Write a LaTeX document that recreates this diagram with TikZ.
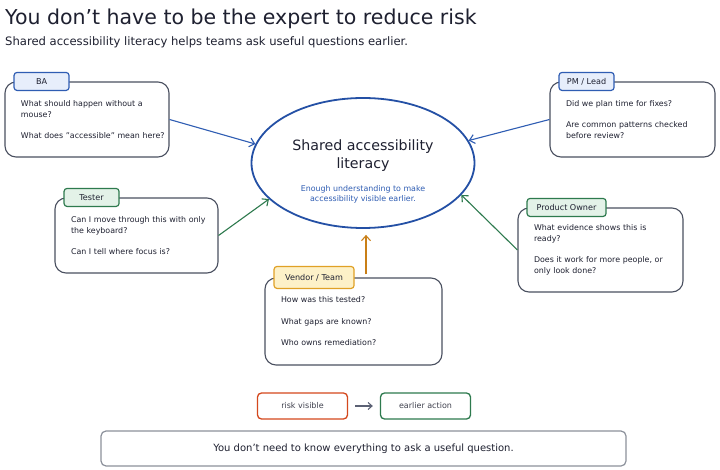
\documentclass[tikz,border=0pt]{standalone}
\usepackage{fontspec}
\setmainfont{DejaVu Sans}
\usetikzlibrary{arrows.meta,positioning,shapes.geometric}

\definecolor{inkdark}{HTML}{1E2030}
\definecolor{boxline}{HTML}{4A5060}
\definecolor{roleblue}{HTML}{2F5DB3}
\definecolor{tagblue}{HTML}{E7EEFB}
\definecolor{rolegreen}{HTML}{2E7A4E}
\definecolor{taggreen}{HTML}{E3F2E8}
\definecolor{roleorange}{HTML}{E0A126}
\definecolor{tagorange}{HTML}{FDF1C8}
\definecolor{arroworange}{HTML}{C97F17}
\definecolor{hubblue}{HTML}{2450A5}
\definecolor{riskred}{HTML}{D4481D}
\definecolor{footline}{HTML}{8C919B}
\definecolor{legendgray}{HTML}{5B6174}

\newcommand{\headfont}{\fontsize{20.5}{24}\selectfont}
\newcommand{\subfont}{\fontsize{11.6}{14}\selectfont}
\newcommand{\asktext}{\fontsize{7.9}{11}\selectfont}
\newcommand{\tagtext}{\fontsize{8.1}{10}\selectfont}

\tikzset{
  headline/.style={inner sep=0pt, text=inkdark, font=\headfont},
  subline/.style={inner sep=0pt, text=inkdark, font=\subfont},
  hub/.style={
    ellipse,
    draw=hubblue,
    line width=1.8pt,
    fill=white,
    inner sep=0pt,
    minimum width=223pt,
    minimum height=130pt
  },
  hubtitle/.style={
    inner sep=0pt,
    align=center,
    text=inkdark,
    font=\fontsize{14.2}{18}\selectfont
  },
  hubnote/.style={
    inner sep=0pt,
    align=center,
    text=roleblue,
    font=\fontsize{7.9}{10}\selectfont
  },
  askbox/.style={
    rectangle,
    rounded corners=11pt,
    draw=boxline,
    line width=1.1pt,
    fill=white,
    align=left,
    inner xsep=0pt,
    inner ysep=0pt,
    text=inkdark,
    font=\asktext,
    execute at begin node={\parindent=0pt\leftskip=16pt}
  },
  roletag/.style={
    rectangle,
    rounded corners=3pt,
    line width=1.2pt,
    minimum width=55pt,
    minimum height=18pt,
    inner xsep=4pt,
    inner ysep=2pt,
    text=inkdark,
    font=\tagtext
  },
  bluetag/.style={roletag, draw=roleblue, fill=tagblue},
  greentag/.style={roletag, draw=rolegreen, fill=taggreen},
  orangetag/.style={roletag, draw=roleorange, fill=tagorange},
  askarrow/.style={
    -{Straight Barb[length=5pt,width=9pt]},
    line width=1.1pt
  },
  bluearrow/.style={askarrow, draw=roleblue},
  greenarrow/.style={askarrow, draw=rolegreen},
  orangearrow/.style={askarrow, draw=arroworange},
  legendbox/.style={
    rectangle,
    rounded corners=4pt,
    line width=1.3pt,
    minimum width=90pt,
    minimum height=26pt,
    text=inkdark!85,
    font=\fontsize{8}{10}\selectfont
  },
  footbox/.style={
    rectangle,
    rounded corners=5pt,
    draw=footline,
    line width=1.2pt,
    minimum width=525pt,
    minimum height=35pt,
    text=inkdark,
    font=\fontsize{10}{12}\selectfont
  }
}

\begin{document}
\begin{tikzpicture}[x=1pt,y=-1pt]
  \path[use as bounding box, fill=white] (0,0) rectangle (720,470);

  \node[headline, anchor=base west] (title) at (5,25) {You don’t have to be the expert to reduce risk};
  \node[subline, anchor=base west] (subtitle) at (5,46) {Shared accessibility literacy helps teams ask useful questions earlier.};

  % centre
  \node[hub] (lit) at (363,163) {};
  \node[hubtitle] (littitle) at (363,155.5) {Shared accessibility\\literacy};
  \node[hubnote, below=14pt of littitle] (litnote) {Enough understanding to make\\accessibility visible earlier.};

  % roles
  \node[askbox, text width=164pt, minimum height=75pt] (ba) at (87,119.5)
    {What should happen without a\\mouse?\\[10pt]What does "accessible" mean here?};
  \node[bluetag, anchor=west] (batag) at ([xshift=9pt]ba.north west) {BA};

  \node[askbox, text width=163pt, minimum height=75pt] (tester) at (136.5,235.5)
    {Can I move through this with only\\the keyboard?\\[10pt]Can I tell where focus is?};
  \node[greentag, anchor=west] (testertag) at ([xshift=9pt]tester.north west) {Tester};

  \node[askbox, text width=165pt, minimum height=75pt] (pm) at (632.5,119.5)
    {Did we plan time for fixes?\\[10pt]Are common patterns checked\\before review?};
  \node[bluetag, anchor=west] (pmtag) at ([xshift=9pt]pm.north west) {PM / Lead};

  \node[askbox, text width=165pt, minimum height=84pt] (po) at (600.5,250)
    {What evidence shows this is\\ready?\\[10pt]Does it work for more people, or\\only look done?};
  \node[greentag, anchor=west, minimum width=79pt] (potag) at ([xshift=9pt]po.north west) {Product Owner};

  \node[askbox, text width=177pt, minimum height=87pt] (vendor) at (353.5,321.5)
    {How was this tested?\\[10.5pt]What gaps are known?\\[10.5pt]Who owns remediation?};
  \node[orangetag, anchor=west, minimum width=80pt, minimum height=22pt] (vendortag) at ([xshift=9pt]vendor.north west) {Vendor / Team};

  \draw[bluearrow] (ba.east) -- (lit.170);
  \draw[greenarrow] (tester.east) -- (lit.201);
  \draw[bluearrow] (pm.west) -- (lit.12);
  \draw[greenarrow] (po.west) -- (lit.342);
  \draw[orangearrow, shorten <=3pt, shorten >=6pt] ([xshift=12.5pt]vendor.north) -- ([xshift=12.5pt]vendor.north |- lit.south);

  % legend
  \node[legendbox, draw=riskred] (risk) at (302.5,406) {risk visible};
  \node[legendbox, draw=rolegreen] (action) at (425.5,406) {earlier action};
  \draw[-{Straight Barb[length=4pt,width=7pt]}, line width=1.1pt, draw=legendgray, shorten <=7pt, shorten >=7pt] (risk) -- (action);

  \node[footbox] (footer) at (363.5,448.5) {You don’t need to know everything to ask a useful question.};
\end{tikzpicture}
\end{document}
